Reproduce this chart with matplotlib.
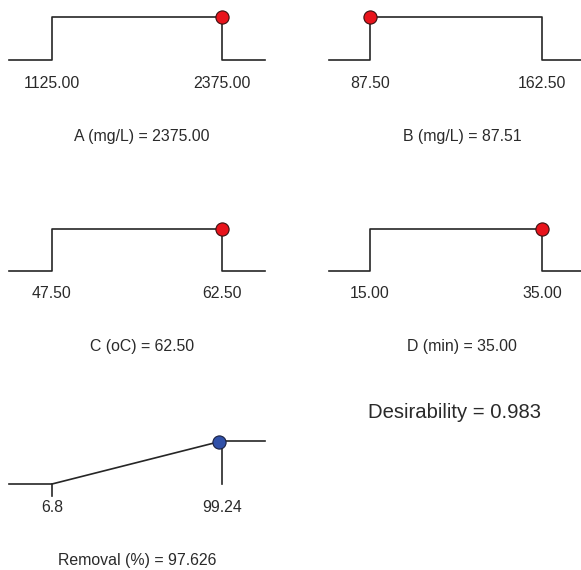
import matplotlib
matplotlib.use("Agg")
import matplotlib.pyplot as plt

plt.rcParams['font.family'] = ['Liberation Sans', 'DejaVu Sans']

W, H = 581, 570

# factor panels: name, low, high, current value
names = ["A (mg/L)", "B (mg/L)", "C (oC)", "D (min)"]
lows = [1125.00, 87.50, 47.50, 15.00]
highs = [2375.00, 162.50, 62.50, 35.00]
values = [2375.00, 87.51, 62.50, 35.00]
low_labels = ["1125.00", "87.50", "47.50", "15.00"]
high_labels = ["2375.00", "162.50", "62.50", "35.00"]
value_labels = ["2375.00", "87.51", "62.50", "35.00"]

# response panel
resp_name = "Removal (%)"
resp_low, resp_high = 6.8, 99.24
resp_value = 97.626
resp_desir = 0.983
resp_low_label, resp_high_label = "6.8", "99.24"
desirability = 0.983

line_col = "#262626"
txt_col = "#2a2a2a"
fs = 11.4
lw = 1.2

fig = plt.figure(figsize=(W / 100, H / 100), dpi=100)


def make_ax(left_px, low_px, high_px, right_px, y0_px, y1_px, low, high):
    # axes in pixel box, x scaled so low/high land on low_px/high_px
    ax = fig.add_axes([left_px / W, 1 - y0_px / H,
                       (right_px - left_px) / W, (y0_px - y1_px) / H])
    ppu = (high_px - low_px) / (high - low)
    ax.set_xlim(low - (low_px - left_px) / ppu, high + (right_px - high_px) / ppu)
    ax.set_ylim(0, 1)
    ax.axis("off")
    return ax


cols = [(9, 52, 222, 265), (329, 370, 542, 585)]
rows = [(60, 17), (271, 229)]

for i in range(4):
    c = cols[i % 2]
    r = rows[i // 2]
    ax = make_ax(*c, *r, lows[i], highs[i])
    x0, x1 = ax.get_xlim()
    ax.plot([x0, lows[i], lows[i], highs[i], highs[i], x1], [0, 0, 1, 1, 0, 0],
            color=line_col, lw=lw, clip_on=False)
    ax.plot([values[i]], [1], 'o', ms=9.5, mfc="#e8141c", mec="#3a1010",
            mew=0.8, clip_on=False, zorder=5)
    for v, s in [(lows[i], low_labels[i]), (highs[i], high_labels[i])]:
        ax.annotate(s, xy=(v, 0), xytext=(0, -23), textcoords="offset pixels",
                    ha="center", va="center", fontsize=fs, color=txt_col)
    ax.annotate(f"{names[i]} = {value_labels[i]}", xy=(0.52, 0),
                xycoords="axes fraction", xytext=(0, -76),
                textcoords="offset pixels", ha="center", va="center",
                fontsize=fs, color=txt_col)

# response panel
ax = make_ax(9, 52, 222, 265, 484, 441, resp_low, resp_high)
x0, x1 = ax.get_xlim()
ax.plot([x0, resp_low, resp_high, x1], [0, 0, 1, 1], color=line_col, lw=lw,
        clip_on=False)
ax.plot([resp_high, resp_high], [1, 0], color=line_col, lw=lw, clip_on=False)
ax.plot([resp_low, resp_low], [0, -0.28], color=line_col, lw=lw, clip_on=False)
ax.plot([resp_value], [resp_desir], 'o', ms=9.5, mfc="#3050a8", mec="#1a2040",
        mew=0.8, clip_on=False, zorder=5)
for v, s in [(resp_low, resp_low_label), (resp_high, resp_high_label)]:
    ax.annotate(s, xy=(v, 0), xytext=(0, -23), textcoords="offset pixels",
                ha="center", va="center", fontsize=fs, color=txt_col)
ax.annotate(f"{resp_name} = {resp_value:.3f}", xy=(0.5, 0),
            xycoords="axes fraction", xytext=(0, -76),
            textcoords="offset pixels", ha="center", va="center",
            fontsize=fs, color=txt_col)

fig.text(454 / W, 1 - 412 / H, f"Desirability = {desirability:.3f}",
         ha="center", va="center", fontsize=14.6, color=txt_col)

fig.savefig("out.png", dpi=100, facecolor="white")
